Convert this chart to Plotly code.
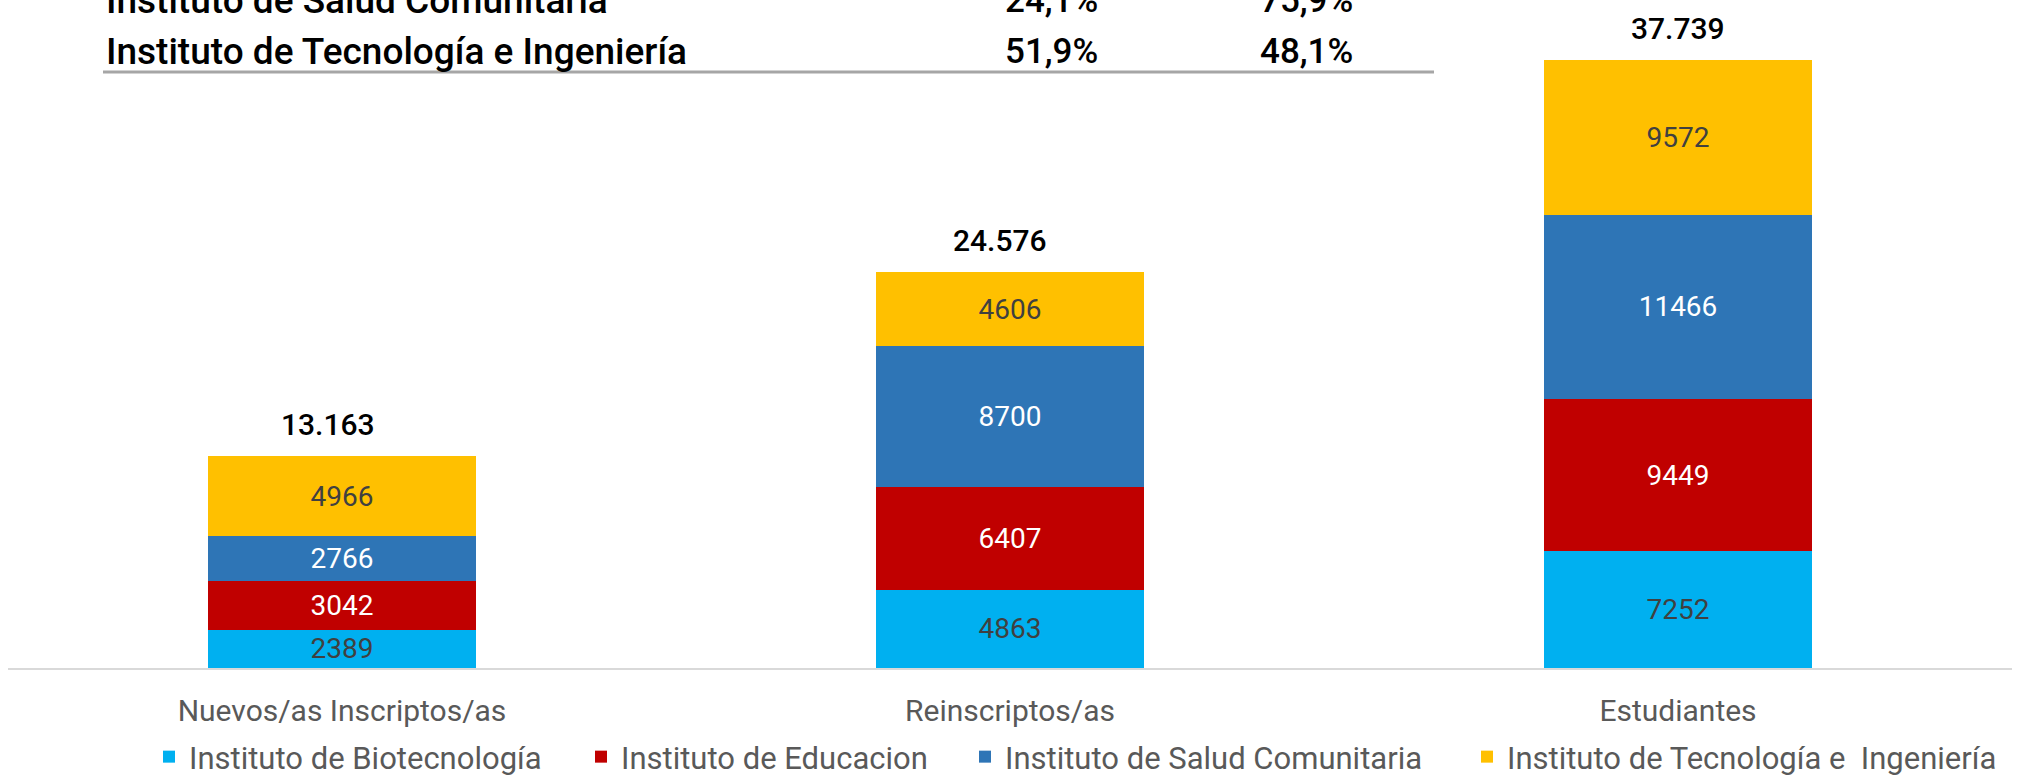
import plotly.graph_objects as go

categories = ["Nuevos/as Inscriptos/as", "Reinscriptos/as", "Estudiantes"]
series_names = ["Instituto de Biotecnología", "Instituto de Educacion",
                "Instituto de Salud Comunitaria", "Instituto de Tecnología e  Ingeniería"]
biotecnologia = [2389, 4863, 7252]
educacion = [3042, 6407, 9449]
salud = [2766, 8700, 11466]
tecnologia = [4966, 4606, 9572]
totals = [13163, 24576, 37739]
total_labels = ["13.163", "24.576", "37.739"]

table_rows = ["Instituto de Salud Comunitaria", "Instituto de Tecnología e Ingeniería"]
table_col1 = ["24,1%", "51,9%"]
table_col2 = ["75,9%", "48,1%"]

colors = ["#00B0F0", "#C00000", "#2E75B6", "#FFC000"]
text_colors = ["#404040", "#FFFFFF", "#FFFFFF", "#404040"]
legend_square_x = [169, 601, 985, 1487]   # pixel centres of legend squares
total_label_xshift = [-14, -10, 0]
FONT = "Roboto, Open Sans, sans-serif"

W, H = 2017, 800          # figure a little taller than the 777 window so the legend box fits
AXIS_Y = 668
ML, MR, MT = 8, 5, 24
MB = H - AXIS_Y
plot_h = H - MT - MB
plot_w = W - ML - MR

def py(ypix):
    return (AXIS_Y - ypix) / plot_h

def px(xpix):
    return (xpix - ML) / plot_w

fig = go.Figure()
legend_ids = ["legend", "legend2", "legend3", "legend4"]
for name, vals, col, tcol, lid in zip(series_names, [biotecnologia, educacion, salud, tecnologia],
                                      colors, text_colors, legend_ids):
    fig.add_trace(go.Bar(
        x=categories, y=vals, name=name, legend=lid,
        marker=dict(color=col, line=dict(width=0)),
        text=[str(v) for v in vals], textposition="inside",
        insidetextanchor="middle", constraintext="none",
        textfont=dict(family=FONT, size=28, color=tcol),
        width=0.4,
    ))

for c, t, lab, xs in zip(categories, totals, total_labels, total_label_xshift):
    fig.add_annotation(x=c, y=t, text=lab, showarrow=False, yanchor="bottom",
                       yshift=12, xshift=xs,
                       font=dict(family=FONT, size=30, color="#000000", weight=500))

# table at top
row_y = [1, 52]
lfont = dict(family=FONT, size=37, color="#000000", weight=500)
pfont = dict(family=FONT, size=35, color="#000000", weight=500)
for r, ypix in enumerate(row_y):
    fig.add_annotation(xref="paper", yref="paper", x=px(104), y=py(ypix), xanchor="left",
                       yanchor="middle", text=table_rows[r], showarrow=False, font=lfont)
    fig.add_annotation(xref="paper", yref="paper", x=px(1051), y=py(ypix), xanchor="center",
                       yanchor="middle", text=table_col1[r], showarrow=False, font=pfont)
    fig.add_annotation(xref="paper", yref="paper", x=px(1306), y=py(ypix), xanchor="center",
                       yanchor="middle", text=table_col2[r], showarrow=False, font=pfont)
fig.add_shape(type="line", xref="paper", yref="paper", x0=px(103), x1=px(1434),
              y0=py(72), y1=py(72), line=dict(color="#A6A6A6", width=3))

legends = {}
for lid, sx in zip(legend_ids, legend_square_x):
    legends[lid] = dict(orientation="h", x=px(sx - 20), xanchor="left",
                        y=py(784), yanchor="bottom",
                        bgcolor="rgba(0,0,0,0)", borderwidth=0,
                        font=dict(family=FONT, size=31, color="#595959"))

fig.update_layout(
    width=W, height=H, barmode="stack",
    margin=dict(l=ML, r=MR, t=MT, b=MB),
    plot_bgcolor="white", paper_bgcolor="white",
    font=dict(family=FONT, color="#595959"),
    xaxis=dict(showline=True, linecolor="#D9D9D9", linewidth=2, ticks="",
               tickfont=dict(family=FONT, size=30, color="#595959"), ticklabelstandoff=15),
    yaxis=dict(visible=False, range=[0, 40000], showgrid=False),
    showlegend=True,
    **legends,
)
fig.write_html("out.html", config={"displayModeBar": False},
               post_script="document.body.style.margin='0';document.body.style.overflow='hidden';"
                           "document.documentElement.style.overflow='hidden';")
